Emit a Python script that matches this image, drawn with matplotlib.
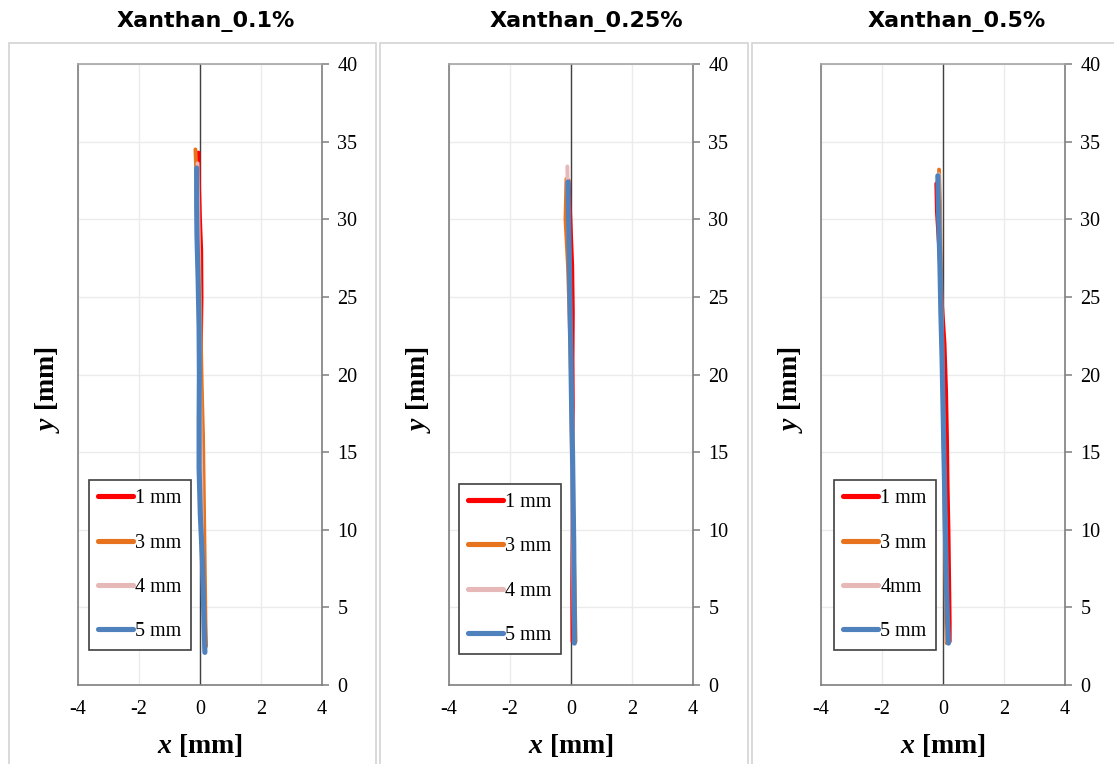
import matplotlib
matplotlib.use('Agg')
import matplotlib.pyplot as plt
from matplotlib.patches import Rectangle

plt.rcParams['mathtext.fontset'] = 'custom'
plt.rcParams['mathtext.bfit'] = 'Liberation Serif:italic:bold'
plt.rcParams['mathtext.rm'] = 'Liberation Serif'

# ---- data ----
titles = ['Xanthan_0.1%', 'Xanthan_0.25%', 'Xanthan_0.5%']
labels = [['1 mm', '3 mm', '4 mm', '5 mm'],
          ['1 mm', '3 mm', '4 mm', '5 mm'],
          ['1 mm', '3 mm', '4mm', '5 mm']]
colors = ['#FF0000', '#E8731E', '#E6B9B8', '#4F81BD']
widths = [2.8, 2.8, 2.8, 3.7]

# panel 1: Xanthan_0.1%
p1_y1 = [34.3, 32, 30, 28, 25, 22, 20, 18, 15, 12, 9, 6, 4, 2.6]
p1_x1 = [-0.05, -0.03, 0.0, 0.04, 0.05, 0.03, 0.02, 0.05, 0.08, 0.08, 0.1, 0.12, 0.14, 0.15]
p1_y3 = [34.5, 33, 31, 28, 25, 22, 19, 16, 13, 10, 7, 4, 2.5]
p1_x3 = [-0.15, -0.12, -0.08, -0.03, 0.0, 0.03, 0.06, 0.1, 0.12, 0.14, 0.16, 0.18, 0.2]
p1_y4 = [33.6, 31, 28, 24, 20, 16, 12, 8, 4, 2.4]
p1_x4 = [-0.08, -0.06, -0.04, -0.02, 0.0, 0.02, 0.05, 0.08, 0.12, 0.14]
p1_y5 = [33.3, 31, 29, 26, 23, 20, 17, 14, 11, 8, 5, 2.1]
p1_x5 = [-0.11, -0.11, -0.1, -0.06, -0.03, -0.02, -0.03, -0.03, 0.01, 0.08, 0.12, 0.16]

# panel 2: Xanthan_0.25%
p2_y1 = [32.5, 30, 27, 24, 21, 18, 15, 12, 9, 6, 2.8]
p2_x1 = [-0.08, -0.02, 0.04, 0.06, 0.05, 0.06, 0.04, 0.06, 0.05, 0.04, 0.05]
p2_y3 = [32.6, 30, 27, 24, 20, 16, 12, 8, 5, 2.8]
p2_x3 = [-0.15, -0.18, -0.1, -0.05, 0.0, 0.03, 0.06, 0.1, 0.13, 0.15]
p2_y4 = [33.4, 31, 28, 25, 22, 18, 14, 10, 6, 2.9]
p2_x4 = [-0.12, -0.1, -0.06, -0.03, -0.02, 0.0, 0.03, 0.05, 0.08, 0.1]
p2_y5 = [32.4, 30, 27, 24, 21, 18, 15, 12, 9, 6, 4, 2.7]
p2_x5 = [-0.1, -0.08, -0.05, -0.03, 0.0, 0.02, 0.05, 0.07, 0.09, 0.1, 0.11, 0.11]

# panel 3: Xanthan_0.5%
p3_y1 = [32.3, 30.5, 28, 25, 22, 19, 16, 13, 10, 7, 4, 2.8]
p3_x1 = [-0.22, -0.2, -0.12, -0.05, 0.05, 0.1, 0.13, 0.15, 0.18, 0.2, 0.22, 0.22]
p3_y3 = [33.2, 31, 28, 25, 22, 19, 16, 13, 10, 7, 4, 2.7]
p3_x3 = [-0.13, -0.1, -0.08, -0.05, -0.02, 0.0, 0.02, 0.04, 0.06, 0.08, 0.1, 0.12]
p3_y4 = [32.9, 30, 27, 24, 20, 16, 12, 8, 4, 2.8]
p3_x4 = [-0.14, -0.12, -0.1, -0.06, -0.02, 0.02, 0.06, 0.1, 0.13, 0.15]
p3_y5 = [32.8, 30, 27, 24, 21, 18, 15, 12, 9, 6, 4, 2.7]
p3_x5 = [-0.17, -0.14, -0.1, -0.07, -0.03, 0.0, 0.03, 0.06, 0.09, 0.12, 0.15, 0.18]

panels = [
    [(p1_x1, p1_y1), (p1_x3, p1_y3), (p1_x4, p1_y4), (p1_x5, p1_y5)],
    [(p2_x1, p2_y1), (p2_x3, p2_y3), (p2_x4, p2_y4), (p2_x5, p2_y5)],
    [(p3_x1, p3_y1), (p3_x3, p3_y3), (p3_x4, p3_y4), (p3_x5, p3_y5)],
]

xticks = [-4, -2, 0, 2, 4]
xticklabels = ['-4', '-2', '0', '2', '4']
yticks = [0, 5, 10, 15, 20, 25, 30, 35, 40]

W, H = 1114, 764
fig = plt.figure(figsize=(W / 100, H / 100), dpi=100)

ax_left = [78, 449, 821]
frame_x = [(9, 376), (380, 748), (752, 1125)]
title_x = [206, 586, 957]
legend_pos = [(0.045, 0.056), (0.041, 0.050), (0.053, 0.056)]

serif = 'Liberation Serif'

for i in range(3):
    # light grey chart-area frame
    fx0, fx1 = frame_x[i]
    fig.add_artist(Rectangle((fx0 / W, -0.05), (fx1 - fx0) / W, 1.05 - 43 / H,
                             transform=fig.transFigure, fill=False,
                             edgecolor='#D3D3D3', lw=1.2))
    fig.text(title_x[i] / W, 1 - 22 / H, titles[i], ha='center', va='center',
             fontsize=16, fontweight='bold', family='DejaVu Sans')

    ax = fig.add_axes([ax_left[i] / W, (H - 685) / H, 244 / W, 621 / H])
    for (xs, ys), c, lw, lab in zip(panels[i], colors, widths, labels[i]):
        ax.plot(xs, ys, color=c, lw=lw, label=lab, solid_capstyle='round',
                solid_joinstyle='round', zorder=3)

    ax.axvline(0, color='#404040', lw=1.0, zorder=2)
    ax.set_xlim(-4, 4)
    ax.set_ylim(0, 40)
    ax.set_xticks(xticks)
    ax.set_xticklabels(xticklabels)
    ax.set_yticks(yticks)
    ax.grid(True, color='#EBEBEB', lw=1.0, zorder=0)
    ax.set_axisbelow(True)
    for s in ax.spines.values():
        s.set_color('#7F7F7F')
        s.set_linewidth(1.2)
    ax.spines['top'].set_color('#A6A6A6')

    ax.yaxis.tick_right()
    ax.tick_params(axis='y', direction='out', length=5, width=1.1,
                   color='#7F7F7F', pad=6, labelsize=14.5)
    ax.tick_params(axis='x', length=0, pad=11, labelsize=14.5)
    for t in ax.get_xticklabels() + ax.get_yticklabels():
        t.set_family(serif)

    ax.set_xlabel(r'$\mathbfit{x}$ [mm]', fontsize=20, fontweight='bold', family=serif)
    ax.xaxis.set_label_coords(0.5, -0.097)
    ax.xaxis.label.set_va('center')
    ax.set_ylabel(r'$\mathbfit{y}$ [mm]', fontsize=20, fontweight='bold', family=serif)
    ax.yaxis.set_label_position('left')
    ax.yaxis.set_label_coords(-0.125, 0.475)
    ax.yaxis.label.set_va('center')

    leg = ax.legend(loc='lower left', bbox_to_anchor=legend_pos[i],
                    borderaxespad=0, fancybox=False, framealpha=1,
                    edgecolor='#404040', handlelength=1.75, handletextpad=0.1,
                    labelspacing=1.25, borderpad=0.45,
                    prop={'family': serif, 'size': 14.5})
    leg.get_frame().set_linewidth(1.2)
    for ln in leg.get_lines():
        ln.set_linewidth(3.7)

fig.savefig('out.png', dpi=100)
